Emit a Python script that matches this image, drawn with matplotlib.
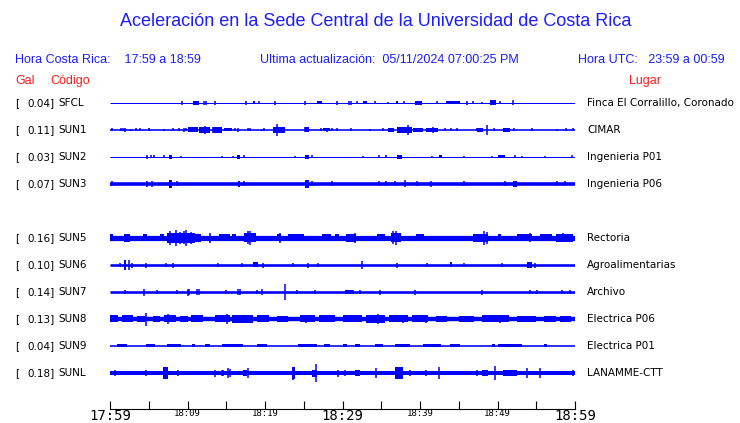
import matplotlib
matplotlib.use("Agg")
import matplotlib.pyplot as plt

W, H = 740, 423
BLUE = "#0000ff"
TXT_BLUE = "#1c1cff"
RED = "#ff1c1c"

codes = ["SFCL", "SUN1", "SUN2", "SUN3", "SUN5", "SUN6", "SUN7", "SUN8", "SUN9", "SUNL"]
pga = ["0.04", "0.11", "0.03", "0.07", "0.16", "0.10", "0.14", "0.13", "0.04", "0.18"]
places = ["Finca El Corralillo, Coronado", "CIMAR", "Ingenieria P01", "Ingenieria P06",
          "Rectoria", "Agroalimentarias", "Archivo", "Electrica P06", "Electrica P01",
          "LANAMME-CTT"]
rows = [0, 1, 2, 3, 5, 6, 7, 8, 9, 10]  # row 4 is empty

# trace half-width of the quiet part (in px-like amplitude units)
base = [0.5, 0.8, 0.5, 1.8, 2.6, 1.3, 1.3, 2.2, 0.8, 2.0]

# single spikes: (minute after 17:59, amplitude)
spikes = [
    [(9.29, 2), (12.13, 2), (12.39, 2), (13.55, 2), (17.55, 2), (19.23, 1.5), (21.29, 2),
     (25.16, 2), (29.29, 2), (30.84, 2), (31.1, 2), (31.87, 1.5), (34.19, 1.5), (35.87, 1),
     (37.94, 1.5), (42.19, 1.5), (46.06, 2), (46.84, 1.5), (48.0, 1), (50.32, 1.5), (52.0, 2.5)],
    [(0.26, 1.5), (1.42, 1.5), (1.68, 1.5), (1.94, 2), (2.71, 1), (3.35, 1.5), (3.87, 1.5),
     (5.03, 1.5), (6.97, 1), (8.13, 1.5), (8.9, 1.5), (9.55, 2), (9.81, 1.5), (12.26, 4),
     (13.29, 3), (15.23, 1.5), (16.13, 1.5), (16.52, 2), (17.81, 1.5), (18.06, 1.5),
     (19.61, 1), (19.87, 1.5), (21.55, 6), (25.16, 2.5), (27.23, 1.5), (28.0, 2), (28.65, 1.5),
     (29.29, 1.5), (31.1, 1.5), (33.55, 1), (35.23, 1.5), (38.45, 5), (40.9, 1.5), (41.68, 3),
     (43.23, 1.5), (44.0, 1.5), (44.77, 1.5), (47.35, 1.5), (48.65, 5), (49.55, 1.5),
     (52.13, 1.5), (54.45, 1.5), (57.68, 1), (58.84, 1.5), (59.74, 1.5)],
    [(4.77, 2), (5.29, 1.5), (5.68, 1.5), (6.97, 1.5), (9.16, 1), (14.45, 1), (15.87, 1),
     (17.29, 1.5), (23.87, 1), (26.06, 1.5), (32.65, 1), (34.71, 1.5), (35.61, 1.5),
     (41.55, 1), (45.68, 1), (49.29, 1), (52.26, 1.5), (53.16, 1), (56.13, 1), (59.61, 1.5)],
    [(0.26, 2.5), (4.77, 3), (5.42, 3), (8.65, 2.5), (17.29, 2.5), (26.06, 2.5), (28.65, 2.5),
     (34.71, 2.5), (35.61, 2.5), (36.77, 2.5), (38.06, 3.5), (39.61, 2.5), (41.42, 3),
     (45.68, 2.5), (50.97, 2.5), (57.68, 2.5), (58.71, 2.5)],
    [(7.8, 7), (8.5, 7.7), (9.0, 6), (9.5, 6.5), (9.8, 8.3), (10.5, 6), (12.9, 5), (17.8, 6.5),
     (18.1, 7), (21.9, 5), (31.6, 5), (36.5, 6.5), (36.9, 7), (48.3, 7), (48.6, 6),
     (54.2, 4.5), (58.5, 4.5)],
    [(1.29, 2), (2.45, 5), (2.84, 2.5), (4.65, 2.5), (7.23, 2), (8.13, 2.5), (13.94, 2),
     (17.03, 2), (19.74, 2.5), (23.61, 2), (25.55, 2.5), (26.84, 2), (32.52, 4), (37.03, 2.5),
     (40.9, 2), (45.68, 2), (50.58, 2), (54.84, 2.5)],
    [(1.94, 2), (4.39, 3.5), (6.06, 2), (8.65, 2), (10.06, 3.5), (10.19, 3), (11.23, 3),
     (11.48, 3), (14.97, 2), (16.52, 3), (16.77, 3), (18.97, 2), (19.61, 3), (22.58, 8),
     (24.13, 2), (26.45, 2), (30.58, 2), (31.35, 2), (32.26, 2), (34.84, 2.5), (39.35, 2.5),
     (48.0, 2.5), (54.19, 2), (55.1, 2), (58.32, 2), (59.35, 2)],
    [(4.65, 6.5), (7.48, 5), (15.1, 5), (16.6, 4), (17.3, 4.5), (25.3, 4), (34.58, 5),
     (37.81, 4.5), (40.77, 4.5), (50.32, 4)],
    [],
    [(0.65, 2.5), (4.65, 3), (8.77, 3), (13.55, 3.5), (14.45, 3), (14.58, 3), (15.23, 5),
     (15.48, 4), (17.81, 5), (23.6, 6.5), (26.58, 9), (29.42, 3.5), (30.32, 3), (34.32, 5),
     (38.71, 2.5), (40.77, 3), (42.45, 6), (47.35, 3), (49.68, 7), (53.81, 5), (55.48, 5),
     (59.74, 2.5)],
]

# busy stretches: (start minute, end minute, amplitude)
bursts = [
    [(10.71, 11.48, 2), (18.45, 18.71, 1.5), (26.71, 27.35, 1.5), (32.65, 33.16, 1.5),
     (36.9, 37.2, 1.5), (39.35, 40.26, 2), (43.35, 45.16, 1.5), (49.03, 49.81, 2.5)],
    [(5.0, 5.2, 1.5), (10.06, 11.35, 2.5), (11.48, 12.9, 3), (13.29, 14.45, 3),
     (14.71, 15.74, 1.5), (21.03, 22.58, 3), (25.16, 25.68, 2.5), (27.5, 28.4, 1.5),
     (35.87, 36.65, 2), (37.03, 38.97, 3), (39.1, 40.39, 2), (40.77, 42.32, 2),
     (47.35, 48.13, 2), (50.71, 51.61, 2)],
    [(7.61, 8.0, 2), (16.39, 16.77, 2), (25.16, 25.68, 2), (37.03, 37.7, 2),
     (42.45, 42.84, 1.5), (50.06, 50.97, 1.5)],
    [(7.61, 8.0, 4), (16.52, 16.77, 3), (25.16, 25.68, 4), (52.0, 52.52, 3)],
    [(0.0, 0.4, 3.5), (1.8, 2.6, 4), (4.3, 4.8, 3.5), (6.5, 7.0, 3.5), (7.3, 11.0, 5),
     (11.0, 11.8, 4), (14.0, 15.5, 3.5), (15.8, 16.3, 3.5), (17.3, 18.8, 4.5),
     (21.5, 22.0, 3.5), (23.0, 25.0, 3.5), (27.3, 28.5, 3.5), (29.0, 29.5, 3.5),
     (30.5, 31.8, 4), (34.5, 35.5, 3.5), (36.3, 37.5, 4.5), (39.5, 40.5, 3.5),
     (46.8, 48.8, 4), (50.0, 50.5, 3.5), (52.5, 54.5, 3.5), (55.5, 57.0, 3.5),
     (57.5, 59.8, 4)],
    [(1.81, 2.06, 5), (18.45, 19.1, 2.5), (43.87, 44.13, 2.5), (53.81, 54.45, 3)],
    [(30.3, 31.3, 1.8)],
    [(0.0, 1.0, 3.5), (1.5, 3.0, 3.5), (3.5, 4.5, 3), (5.5, 6.5, 3), (7.0, 8.5, 3.5),
     (9.0, 10.0, 3), (10.5, 12.0, 3.5), (13.5, 15.5, 3.5), (15.8, 18.5, 4), (19.0, 20.5, 3.5),
     (21.5, 23.0, 3), (24.5, 26.5, 3.5), (27.0, 29.0, 3.5), (30.0, 32.5, 3.5),
     (33.0, 35.5, 4), (36.0, 38.5, 3.5), (39.0, 41.0, 3.5), (42.0, 43.5, 3), (45.0, 47.0, 3),
     (48.0, 51.5, 3.5), (52.5, 55.0, 3), (56.0, 57.5, 3), (58.0, 59.5, 3)],
    [(0.9, 2.2, 1.5), (4.65, 5.81, 1.5), (7.35, 9.16, 1.5), (10.58, 10.97, 1.5),
     (12.26, 12.9, 1.5), (14.45, 17.16, 1.5), (19.0, 20.26, 1.5), (24.26, 26.71, 1.5),
     (27.61, 28.39, 1.5), (30.06, 30.58, 1.5), (31.61, 32.26, 1.5), (34.19, 35.23, 1.5),
     (36.77, 38.71, 1.5), (40.39, 42.71, 1.5), (43.87, 45.16, 1.5), (49.29, 49.68, 1.5),
     (50.06, 53.16, 1.5), (55.97, 56.39, 1.5)],
    [(6.84, 7.48, 6), (17.16, 17.68, 3), (23.48, 23.87, 6), (26.06, 26.71, 3.5),
     (31.61, 32.3, 2.5), (36.77, 37.81, 5.5), (48.0, 48.77, 3), (50.71, 52.52, 3)],
]

tick_minutes = list(range(0, 61, 5))
tick_labels = ["17:59", "", "18:09", "", "18:19", "", "18:29", "", "18:39", "", "18:49", "", "18:59"]
big_ticks = ["17:59", "18:29", "18:59"]


def fx(px):
    return px / W


def fy(py):
    return 1 - py / H


fig = plt.figure(figsize=(W / 100, H / 100), dpi=100)
ax = fig.add_axes([fx(110), fy(409), fx(575) - fx(110), fy(90) - fy(409)])
ax.set_xlim(0, 60)
ax.set_ylim((409 - 103) / 27, (90 - 103) / 27)

s = 1 / 27  # amplitude unit -> row units
for i, r in enumerate(rows):
    ax.hlines(r, 0, 60, color=BLUE, lw=max(2 * base[i], 1) * 0.72)
    for t0, t1, a in bursts[i]:
        ax.fill_between([t0, t1], r - a * s, r + a * s, color=BLUE, lw=0)
    for t, a in spikes[i]:
        ax.vlines(t, r - a * s, r + a * s, color=BLUE, lw=1.1)

for sp in ["top", "left", "right"]:
    ax.spines[sp].set_visible(False)
ax.spines["bottom"].set_linewidth(0.8)
ax.set_yticks([])
ax.set_xticks(tick_minutes)
ax.set_xticklabels(tick_labels, family="DejaVu Sans Mono")
ax.tick_params(axis="x", direction="in", length=6, width=0.8, pad=0)
for lab in ax.get_xticklabels():
    lab.set_fontsize(10 if lab.get_text() in big_ticks else 6.5)

sans = "Liberation Sans"
fig.text(fx(376), fy(22), "Aceleración en la Sede Central de la Universidad de Costa Rica",
         ha="center", va="center", color=TXT_BLUE, fontsize=13, family=sans)
fig.text(fx(15), fy(60), "Hora Costa Rica:    17:59 a 18:59", ha="left", va="center",
         color=TXT_BLUE, fontsize=9, family=sans)
fig.text(fx(260), fy(60), "Ultima actualización:  05/11/2024 07:00:25 PM", ha="left",
         va="center", color=TXT_BLUE, fontsize=9, family=sans)
fig.text(fx(725), fy(60), "Hora UTC:   23:59 a 00:59", ha="right", va="center",
         color=TXT_BLUE, fontsize=9, family=sans)
fig.text(fx(15), fy(81), "Gal", ha="left", va="center", color=RED, fontsize=9, family=sans)
fig.text(fx(50), fy(81), "Código", ha="left", va="center", color=RED, fontsize=9, family=sans)
fig.text(fx(645), fy(81), "Lugar", ha="center", va="center", color=RED, fontsize=9, family=sans)

for i, r in enumerate(rows):
    yp = 103 + 27 * r
    fig.text(fx(15), fy(yp), "[", ha="left", va="center", fontsize=7.5)
    fig.text(fx(55), fy(yp), pga[i] + "]", ha="right", va="center", fontsize=7.5)
    fig.text(fx(58), fy(yp), codes[i], ha="left", va="center", fontsize=7.5)
    fig.text(fx(587), fy(yp), places[i], ha="left", va="center", fontsize=7.5)

fig.savefig("out.png", dpi=100)
